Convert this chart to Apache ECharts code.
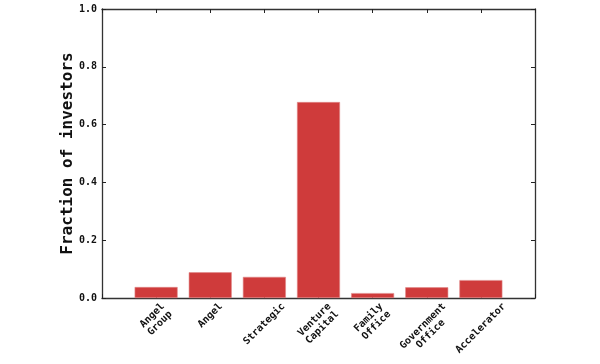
<!DOCTYPE html>
<html>
<head>
<meta charset="utf-8">
<script src="https://cdn.jsdelivr.net/npm/echarts@6/dist/echarts.min.js"></script>
<style>html,body{margin:0;padding:0;background:#fff}#c{width:600px;height:364px}</style>
</head>
<body>
<div id="c"></div>
<script>
var categories = ['Angel\nGroup', 'Angel', 'Strategic', 'Venture\nCapital', 'Family\nOffice', 'Government\nOffice', 'Accelerator'];
var values = [0.038, 0.089, 0.073, 0.678, 0.017, 0.037, 0.062];
var yTicks = [0.0, 0.2, 0.4, 0.6, 0.8, 1.0];

var FONT = 'DejaVu Sans Mono';
var LBL_FS = 10, LBL_LH = 11, LBL_PAD = 3;
var chart = echarts.init(document.getElementById('c'), null, {renderer: 'canvas'});
var lineStyle = {color: '#333', width: 1.3};
var tickStyle = {color: '#222', width: 1};

function labelBoxHeight(txt) {
  var lines = txt.split('\n');
  var maxc = 0;
  lines.forEach(function (l) { maxc = Math.max(maxc, l.length); });
  var w = maxc * 0.602 * LBL_FS;
  var h = lines.length * LBL_LH;
  return (w + h) * Math.SQRT1_2;
}

chart.setOption({
  animation: false,
  grid: {left: 102, right: 65, top: 9, bottom: 66, containLabel: false},
  xAxis: [{
    type: 'value', min: -1, max: 7, interval: 1, position: 'bottom',
    axisLine: {show: true, onZero: false, lineStyle: lineStyle},
    axisTick: {show: true, inside: true, length: 4, lineStyle: tickStyle},
    splitLine: {show: false},
    axisLabel: {show: false}
  }, {
    type: 'value', min: -1, max: 7, interval: 1, position: 'top',
    axisLine: {show: true, onZero: false, lineStyle: lineStyle},
    axisTick: {show: true, inside: true, length: 4, lineStyle: tickStyle},
    splitLine: {show: false}, axisLabel: {show: false}
  }],
  yAxis: [{
    type: 'value', min: 0, max: 1, interval: 0.2, position: 'left',
    name: 'Fraction of investors', nameLocation: 'middle', nameGap: 26, nameMoveOverlap: false,
    nameTextStyle: {fontFamily: FONT, fontWeight: 'bold', fontSize: 16, color: '#111'},
    axisLine: {show: true, onZero: false, lineStyle: lineStyle},
    axisTick: {show: true, inside: true, length: 4, lineStyle: tickStyle},
    splitLine: {show: false},
    axisLabel: {fontFamily: FONT, fontWeight: 'bold', fontSize: 10, color: '#111', margin: 5,
      formatter: function (v) { return v.toFixed(1); }}
  }, {
    type: 'value', min: 0, max: 1, interval: 0.2, position: 'right',
    axisLine: {show: true, onZero: false, lineStyle: lineStyle},
    axisTick: {show: true, inside: true, length: 4, lineStyle: tickStyle},
    splitLine: {show: false}, axisLabel: {show: false}
  }],
  series: [{
    type: 'bar', xAxisIndex: 0, yAxisIndex: 0, barWidth: 43,
    itemStyle: {color: '#cf3b3b', borderColor: '#e08a8a', borderWidth: 0.6},
    data: values.map(function (v, i) { return [i, v]; })
  }, {
    type: 'custom', xAxisIndex: 0, yAxisIndex: 0, clip: false, silent: true,
    data: categories.map(function (c, i) { return [i, 0]; }),
    renderItem: function (params, api) {
      var i = api.value(0);
      var p = api.coord([i, 0]);
      var txt = categories[i];
      var bh = labelBoxHeight(txt);
      return {
        type: 'text',
        x: p[0], y: p[1] + LBL_PAD + bh / 2,
        rotation: Math.PI / 4,
        style: {
          text: txt, x: 0, y: 0, align: 'center', verticalAlign: 'middle',
          font: 'bold ' + LBL_FS + 'px "' + FONT + '"', lineHeight: LBL_LH, fill: '#111'
        }
      };
    }
  }]
});
</script>
</body>
</html>
